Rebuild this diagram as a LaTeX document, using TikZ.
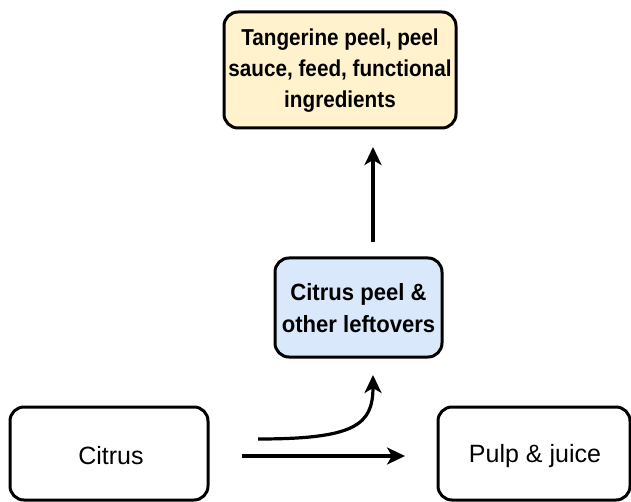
\documentclass[tikz,border=0pt]{standalone}
\usepackage{fontspec}
\setmainfont{Liberation Sans}
\newfontfamily\condfont{Liberation Sans}[FakeStretch=0.9]
\newfontfamily\midfont{Liberation Sans}[FakeStretch=0.94]
\usetikzlibrary{arrows.meta}
\definecolor{topfill}{HTML}{FFF2CC}
\definecolor{midfill}{HTML}{DAE8FC}
\tikzset{
  box/.style={draw=black, line width=3pt, rounded corners=14pt, inner sep=0pt},
  boldtxt/.style={font=\condfont\fontsize{23}{31}\selectfont\bfseries, align=center},
  midtxt/.style={font=\midfont\fontsize{23.5}{32}\selectfont\bfseries, align=center},
  plaintxt/.style={font=\fontsize{25}{28}\selectfont},
  arr/.style={line width=3.2pt, -{Stealth[length=18pt, width=17pt, inset=5pt]}},
}
\begin{document}
\begin{tikzpicture}[x=1pt, y=-1pt]
\useasboundingbox (0,0) rectangle (631,502);
% boxes
\draw[box, fill=topfill] (224,12) rectangle (456,128);
\node[boldtxt] (top) at (340,71) {Tangerine peel, peel\\sauce, feed, functional\\ingredients};
\draw[box, fill=midfill] (275,258) rectangle (442,357);
\node[midtxt] (mid) at (358.5,308) {Citrus peel \&\\other leftovers};
\draw[box] (10,407) rectangle (208,500);
\node[plaintxt] (citrus) at (111,456) {Citrus};
\draw[box] (438,407) rectangle (630,500);
\node[plaintxt] (pulp) at (535,456) {Pulp \& juice};
% connector ends
\coordinate (v1) at (373,242);
\coordinate (v2) at (373,147);
\coordinate (s1) at (242,456);
\coordinate (s2) at (405,456);
\coordinate (c1) at (258,439);
\coordinate (c2) at (373,375);
\draw[arr] (v1) -- (v2);
\draw[arr] (s1) -- (s2);
\draw[arr] (c1) .. controls (355,439) and (373,425) .. (c2);
\end{tikzpicture}
\end{document}
